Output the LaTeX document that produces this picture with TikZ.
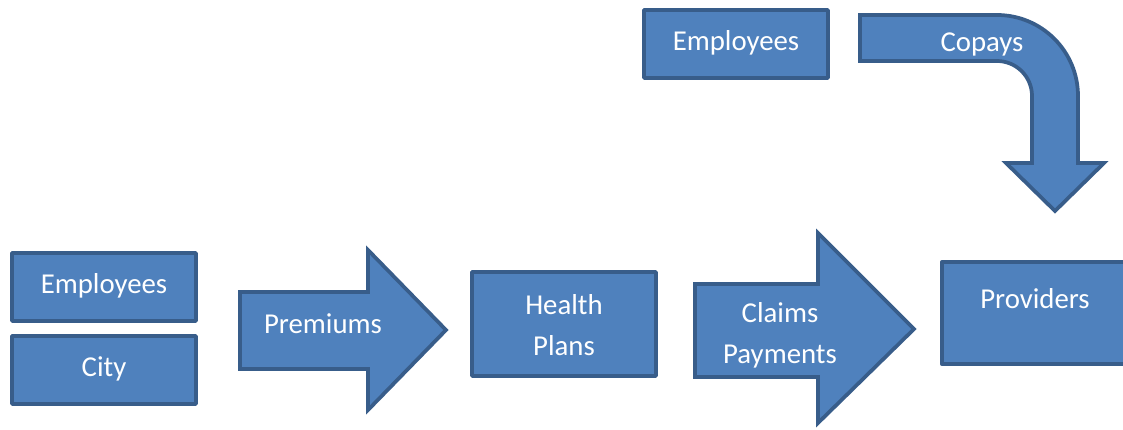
\documentclass[tikz,border=0pt]{standalone}
\usepackage{fontspec}
\setmainfont{Carlito}
\usetikzlibrary{positioning}
\definecolor{BoxBlue}{RGB}{79,129,189}
\definecolor{EdgeBlue}{RGB}{56,93,138}

\begin{document}
\begin{tikzpicture}[
    x=0.75pt, y=-0.75pt,
    box/.style={
        draw=EdgeBlue, fill=BoxBlue, line width=2.8pt, line join=round,
        minimum width=138pt, minimum height=51pt, inner sep=0pt
    },
    blockarrow/.style={
        draw=EdgeBlue, fill=BoxBlue, line width=2.8pt, line join=miter
    },
    txt/.style={
        text=white, align=center, inner sep=0pt,
        font=\fontsize{21.6}{30.75}\selectfont
    },
]
\useasboundingbox (0,0) rectangle (1123,429);

%% payers on the left
\node[box] (emp) at (104, 287) {};
\node[txt] (emptxt) at (104, 286) {Employees};
\node[box] (city) at (104, 370) {};
\node[txt] (citytxt) at (104, 369) {City};

%% premiums arrow
\draw[blockarrow] (240,292) -- (368,292) -- (368,250) -- (446,330)
    -- (368,410) -- (368,369) -- (240,369) -- cycle;
\node[txt] (prem) at (323, 324) {Premiums};

%% health plans
\node[box, minimum height=78pt] (plans) at (564, 324) {};
\node[txt] (planstxt) at (564, 325) {Health\\Plans};

%% claims payments arrow
\draw[blockarrow] (695,284) -- (818,284) -- (818,233) -- (914,329)
    -- (818,423) -- (818,377) -- (695,377) -- cycle;
\node[txt] (claims) at (780, 335) {Claims\\Payments};

%% providers, runs off the right edge
\node[box, minimum width=141.75pt, minimum height=77pt] (prov) at (1036.5, 313) {};
\node[txt] (provtxt) at (1035, 299) {Providers};

%% employees paying copays
\node[box] (emptop) at (736, 44) {};
\node[txt] (emptoptxt) at (736, 43) {Employees};

%% bent copays arrow
\draw[blockarrow] (860,15) -- (997,15) arc[start angle=-90, end angle=0, radius=81]
    -- (1078,163) -- (1104,163) -- (1055,211) -- (1006,163) -- (1032,163)
    -- (1032,96) arc[start angle=0, end angle=-90, radius=35] -- (860,61) -- cycle;
\node[txt] (copays) at (982, 44) {Copays};

\end{tikzpicture}
\end{document}
